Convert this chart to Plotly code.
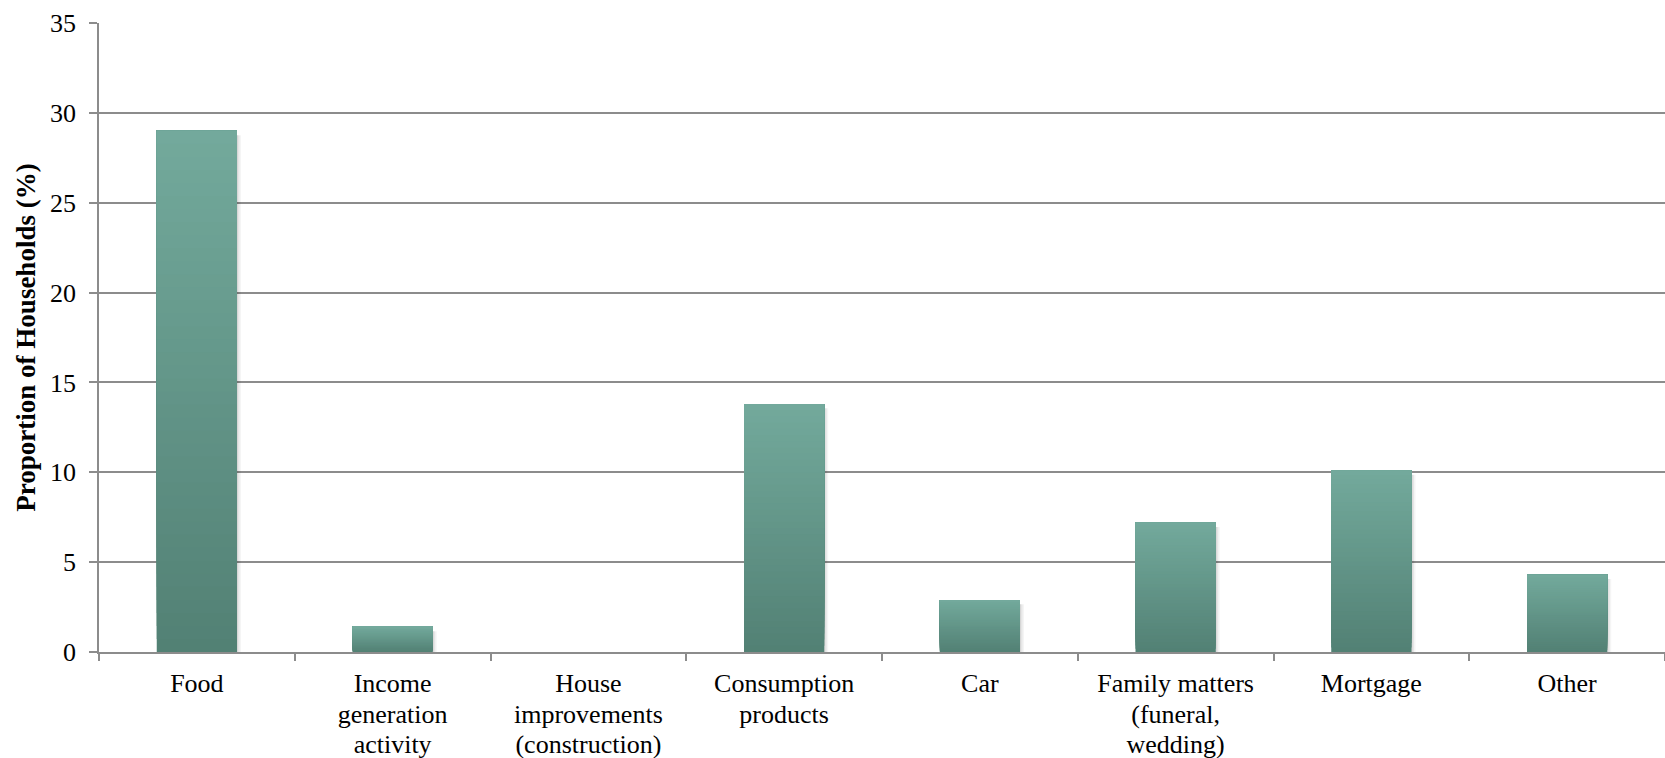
import plotly.graph_objects as go

categories = ["Food", "Income generation activity", "House improvements (construction)",
              "Consumption products", "Car", "Family matters (funeral, wedding)",
              "Mortgage", "Other"]
tick_labels = ["Food", "Income<br>generation<br>activity", "House<br>improvements<br>(construction)",
               "Consumption<br>products", "Car", "Family matters<br>(funeral,<br>wedding)",
               "Mortgage", "Other"]
values = [29.0, 1.4, 0.0, 13.8, 2.9, 7.2, 10.1, 4.3]

FONT = "Liberation Serif"
GRID = "#8c8c8c"
TOP = (115, 170, 156)
BOT = (82, 128, 116)
N = 40
BW = 0.41
PX = 1 / 195.75  # one pixel in category units (approx)
TICKLEN = 7
LINE_GAP = 30     # px between label lines
FIRST_STANDOFF = 7

fig = go.Figure()

# soft shadow layers
for k, a in [(1, 0.07), (2.5, 0.06), (4, 0.04)]:
    fig.add_trace(go.Bar(
        x=categories, y=[max(v - 0.12, 0) for v in values], base=[-0.12 if v > 0 else 0 for v in values],
        width=BW, offset=-BW / 2 + k * PX,
        marker=dict(color=f"rgba(0,0,0,{a})", line=dict(width=0)),
        hoverinfo="skip", showlegend=False))

# gradient bars: each slice runs from its base up to the bar top, later slices cover earlier
for i in range(N):
    t = (i + 0.5) / N
    c = tuple(int(round(BOT[j] + (TOP[j] - BOT[j]) * t)) for j in range(3))
    fig.add_trace(go.Bar(
        x=categories, y=[v * (N - i) / N for v in values],
        base=[v * i / N for v in values],
        width=BW, offset=-BW / 2,
        marker=dict(color=f"rgb{c}", line=dict(width=0)),
        hoverinfo="skip", showlegend=False))

# split multi-line labels into lines, each line drawn by its own overlaid axis
lines = [lbl.split("<br>") for lbl in tick_labels]
nlines = max(len(l) for l in lines)
line_text = [[l[k] if k < len(l) else "" for l in lines] for k in range(nlines)]

layout_axes = {}
for k in range(1, nlines):
    name = f"xaxis{k + 1}"
    fig.add_trace(go.Scatter(x=[None], y=[None], xaxis=f"x{k + 1}", yaxis="y",
                             showlegend=False, hoverinfo="skip"))
    layout_axes[name] = dict(
        overlaying="x", anchor="y", side="bottom", type="linear",
        range=[-0.5, len(categories) - 0.5],
        tickmode="array", tickvals=list(range(len(categories))), ticktext=line_text[k],
        ticks="", showline=False, showgrid=False, zeroline=False,
        tickfont=dict(family=FONT, size=26, color="black"),
        ticklabelstandoff=FIRST_STANDOFF + TICKLEN + LINE_GAP * k,
    )

fig.update_layout(
    width=1665, height=758,
    margin=dict(l=99, r=0, t=23, b=106),
    paper_bgcolor="white", plot_bgcolor="white",
    barmode="overlay",
    font=dict(family=FONT, size=26, color="black"),
    xaxis=dict(
        type="category", categoryarray=categories, categoryorder="array",
        tickmode="array", tickvals=categories, ticktext=line_text[0],
        tickson="boundaries", ticks="outside", ticklen=TICKLEN, tickwidth=1.5, tickcolor=GRID,
        showline=True, linecolor=GRID, linewidth=1.5,
        showgrid=False, zeroline=False,
        tickfont=dict(family=FONT, size=26, color="black"),
        ticklabelstandoff=FIRST_STANDOFF,
        range=[-0.5, len(categories) - 0.5],
    ),
    yaxis=dict(
        range=[0, 35], tickvals=[0, 5, 10, 15, 20, 25, 30, 35],
        ticks="outside", ticklen=8, tickwidth=1.5, tickcolor=GRID,
        showline=True, linecolor=GRID, linewidth=1.5,
        showgrid=True, gridcolor=GRID, gridwidth=1.5,
        zeroline=False,
        tickfont=dict(family=FONT, size=26, color="black"),
        ticklabelstandoff=8,
        title=dict(text="<b>Proportion of Households (%)</b>",
                   font=dict(family=FONT, size=27, color="black"), standoff=7),
    ),
    **layout_axes,
)

fig.write_html("out.html")
